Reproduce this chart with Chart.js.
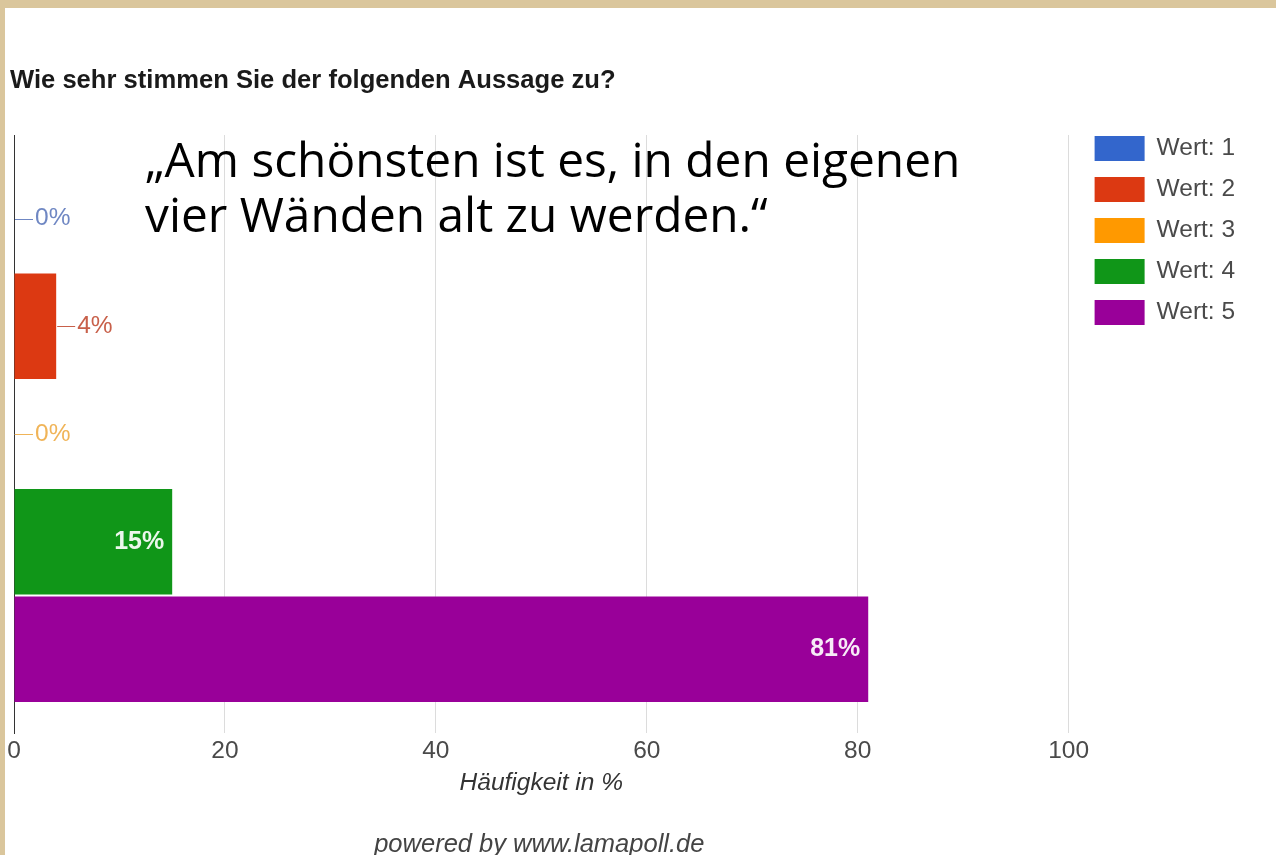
<!DOCTYPE html>
<html lang="de">
<head>
<meta charset="utf-8">
<script src="https://cdn.jsdelivr.net/npm/chart.js@4/dist/chart.umd.min.js"></script>
<style>
  html, body { margin: 0; padding: 0; }
  body { background: #dac69c; width: 1276px; height: 855px; overflow: hidden; position: relative; }
  #panel { position: absolute; left: 5px; top: 8px; width: 1271px; height: 847px; background: #fff; }
  #chart { position: absolute; left: 0; top: 0; }
  #quote {
    position: absolute; left: 140px; top: 122.5px;
    font-family: "Open Sans", "Noto Sans", sans-serif; font-size: 47.8px; line-height: 55px;
    color: #000; white-space: nowrap; pointer-events: none;
  }
</style>
</head>
<body>
<div id="panel">
  <canvas id="chart" width="1271" height="847"></canvas>
  <div id="quote">„Am schönsten ist es, in den eigenen<br>vier Wänden alt zu werden.“</div>
</div>
<script>
// Survey answers: share of responses per rating (percent)
const categories = [''];
const seriesNames = ['Wert: 1', 'Wert: 2', 'Wert: 3', 'Wert: 4', 'Wert: 5'];
const seriesValues = [0, 4, 0, 15, 81];
const xTicks = [0, 20, 40, 60, 80, 100];

const palette = ['#3366cc', '#dc3912', '#ff9900', '#109618', '#990099'];
const outsideLabelColors = ['#6f87c3', '#c8604a', '#f0b458', '#3a9a40', '#a040a0'];

const FONT = '"Liberation Sans", Arial, sans-serif';

// Value labels: inside the bar for long bars, otherwise with a short leader line
const valueLabels = {
  id: 'valueLabels',
  afterDatasetsDraw(chart) {
    const ctx = chart.ctx;
    ctx.save();
    chart.data.datasets.forEach((ds, i) => {
      const meta = chart.getDatasetMeta(i);
      if (meta.hidden) return;
      meta.data.forEach((bar, j) => {
        const v = ds.data[j];
        const text = v + '%';
        ctx.textBaseline = 'middle';
        if (v >= 10) {
          ctx.font = 'bold 25px ' + FONT;
          ctx.fillStyle = 'rgba(255,255,255,0.92)';
          ctx.textAlign = 'right';
          ctx.fillText(text, bar.x - 8, bar.y);
        } else {
          ctx.strokeStyle = outsideLabelColors[i];
          ctx.lineWidth = 1;
          ctx.beginPath();
          ctx.moveTo(bar.x + 1, Math.round(bar.y) + 0.5);
          ctx.lineTo(bar.x + 19, Math.round(bar.y) + 0.5);
          ctx.stroke();
          ctx.font = '24.5px ' + FONT;
          ctx.fillStyle = outsideLabelColors[i];
          ctx.textAlign = 'left';
          ctx.fillText(text, bar.x + 21, bar.y);
        }
      });
    });
    ctx.restore();
  }
};

// Legend to the right of the plot: colour swatch plus series name
const sideLegend = {
  id: 'sideLegend',
  afterDraw(chart) {
    const ctx = chart.ctx;
    const x0 = chart.chartArea.right + 26;
    const y0 = 128;
    const step = 41;
    ctx.save();
    ctx.font = '24.5px ' + FONT;
    ctx.textBaseline = 'middle';
    ctx.textAlign = 'left';
    chart.data.datasets.forEach((ds, i) => {
      const y = y0 + i * step;
      ctx.fillStyle = ds.backgroundColor;
      ctx.fillRect(x0, y, 50, 25);
      ctx.fillStyle = '#4a4a4a';
      ctx.fillText(ds.label, x0 + 62, y + 12.5);
    });
    ctx.restore();
  }
};

new Chart(document.getElementById('chart'), {
  type: 'bar',
  data: {
    labels: categories,
    datasets: seriesNames.map((name, i) => ({
      label: name,
      data: [seriesValues[i]],
      backgroundColor: palette[i],
      borderWidth: 0,
      categoryPercentage: 0.9,
      barPercentage: 0.98
    }))
  },
  options: {
    indexAxis: 'y',
    responsive: false,
    animation: false,
    devicePixelRatio: 1,
    layout: { padding: { left: 5, right: 207.4, top: 0, bottom: 0 } },
    scales: {
      x: {
        type: 'linear',
        min: 0,
        max: 100,
        border: { display: false },
        grid: {
          drawTicks: false,
          color: ctx => ctx.tick && ctx.tick.value === 0 ? 'rgba(0,0,0,0)' : '#dcdcdc',
          lineWidth: 1
        },
        ticks: {
          stepSize: 10,
          padding: 6.25,
          color: '#4a4a4a',
          font: { family: FONT, size: 24.5, lineHeight: 1.0 },
          maxRotation: 0,
          autoSkip: false,
          callback: v => xTicks.includes(v) ? String(v) : null
        },
        title: {
          display: true,
          text: 'Häufigkeit in %',
          color: '#333',
          font: { family: FONT, size: 24.5, style: 'italic', lineHeight: 1.0 },
          padding: { top: 0.75, bottom: 10 }
        },
        // the "0" label may hang over the left border; keep the plot flush with it
        afterFit(scale) { scale.paddingLeft = 0; scale.paddingRight = 0; }
      },
      y: {
        type: 'category',
        border: { display: true, color: '#333', width: 1 },
        grid: { display: false, drawTicks: false },
        ticks: { display: false },
        afterFit(scale) { scale.width = 4; }
      }
    },
    plugins: {
      legend: { display: false },
      tooltip: { enabled: false },
      title: {
        display: true,
        text: 'Wie sehr stimmen Sie der folgenden Aussage zu?',
        align: 'start',
        color: '#1a1a1a',
        font: { family: FONT, size: 25.6, weight: 'bold' },
        padding: { top: 58, bottom: 38.28 }
      },
      subtitle: {
        display: true,
        position: 'bottom',
        text: 'powered by www.lamapoll.de',
        color: '#444',
        font: { family: FONT, size: 25.5, style: 'italic', lineHeight: 0.8 },
        padding: { top: 29.35, bottom: 0 }
      }
    }
  },
  plugins: [valueLabels, sideLegend]
});
</script>
</body>
</html>
